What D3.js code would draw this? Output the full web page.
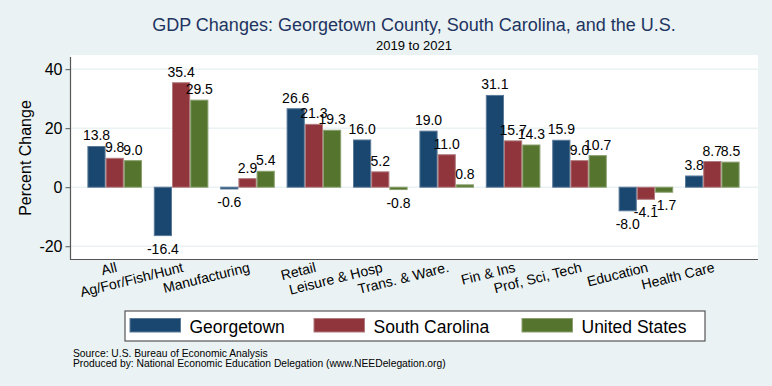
<!DOCTYPE html>
<html>
<head>
<meta charset="utf-8">
<script src="https://cdn.jsdelivr.net/npm/d3@7/dist/d3.min.js"></script>
<style>
  html, body { margin: 0; padding: 0; background: #eaf2f3; }
  svg { display: block; font-family: "Liberation Sans", Arial, Helvetica, sans-serif; }
</style>
</head>
<body>
<svg id="chart" width="772" height="386"></svg>
<script>
const categories = ["All", "Ag/For/Fish/Hunt", "Manufacturing", "Retail", "Leisure & Hosp",
  "Trans. & Ware.", "Fin & Ins", "Prof, Sci, Tech", "Education", "Health Care"];
const seriesNames = ["Georgetown", "South Carolina", "United States"];
const georgetown = [13.8, -16.4, -0.6, 26.6, 16.0, 19.0, 31.1, 15.9, -8.0, 3.8];
const southCarolina = [9.8, 35.4, 2.9, 21.3, 5.2, 11.0, 15.7, 9.0, -4.1, 8.7];
const unitedStates = [9.0, 29.5, 5.4, 19.3, -0.8, 0.8, 14.3, 10.7, -1.7, 8.5];
const yTicks = [-20, 0, 20, 40];
const colors = ["#1a476f", "#90353b", "#55752f"];
const strokes = ["#5a7a98", "#b07a7e", "#8aa06e"];

const series = [georgetown, southCarolina, unitedStates];
const svg = d3.select("#chart");
const W = 772, H = 386;
const plot = { left: 71, right: 758, top: 55, bottom: 259.5 };

svg.append("rect").attr("width", W).attr("height", H).attr("fill", "#eaf2f3");
svg.append("rect").attr("x", plot.left).attr("y", plot.top)
  .attr("width", plot.right - plot.left).attr("height", plot.bottom - plot.top)
  .attr("fill", "#ffffff");

const x = d3.scaleBand().domain(categories).range([70, 757]).paddingInner(0.178).paddingOuter(0.262);
const xs = d3.scaleBand().domain(seriesNames).range([0, x.bandwidth()]);
const y = d3.scaleLinear().domain([-24.5, 44.8]).range([plot.bottom, plot.top]);

// gridlines
svg.append("g").selectAll("line").data(yTicks).join("line")
  .attr("x1", plot.left).attr("x2", plot.right)
  .attr("y1", d => y(d)).attr("y2", d => y(d))
  .attr("stroke", "#eaf2f3").attr("stroke-width", 1.5);

// bars
const groups = svg.append("g").selectAll("g").data(categories).join("g")
  .attr("transform", d => `translate(${x(d)},0)`);
groups.each(function(cat, i) {
  const g = d3.select(this);
  seriesNames.forEach((s, j) => {
    const v = series[j][i];
    g.append("rect")
      .attr("x", xs(s) + 0.5).attr("width", xs.bandwidth() - 1)
      .attr("y", Math.min(y(v), y(0)))
      .attr("height", Math.abs(y(v) - y(0)))
      .attr("fill", colors[j]).attr("stroke", strokes[j]).attr("stroke-width", 1);
  });
});
// value labels
groups.each(function(cat, i) {
  const g = d3.select(this);
  seriesNames.forEach((s, j) => {
    const v = series[j][i];
    g.append("text")
      .attr("x", xs(s) + xs.bandwidth() / 2)
      .attr("y", v >= 0 ? y(v) - 6 : y(v) + 18)
      .attr("text-anchor", "middle").attr("font-size", 14).attr("fill", "#000")
      .text(v.toFixed(1));
  });
});

// y axis
const yAxis = d3.axisLeft(y).tickValues(yTicks).tickSize(5).tickPadding(3).tickFormat(d => String(d));
const ya = svg.append("g").attr("transform", `translate(${plot.left - 0.5},0)`).call(yAxis);
ya.select(".domain").attr("d", `M0,${plot.top + 2}V${plot.bottom}`).attr("stroke", "#555").attr("stroke-width", 1.2);
ya.selectAll(".tick line").attr("stroke", "#555");
ya.selectAll(".tick text").attr("font-size", 16).attr("fill", "#000").attr("font-family", "Liberation Sans, Arial, sans-serif");

// x axis
const xAxis = d3.axisBottom(x).tickSize(0).tickPadding(0);
const xa = svg.append("g").attr("transform", `translate(0,${plot.bottom})`).call(xAxis);
xa.select(".domain").attr("d", `M${plot.left - 1},0H${plot.right}`).attr("stroke", "#555").attr("stroke-width", 1.2);
xa.selectAll(".tick text")
  .attr("font-size", 14).attr("fill", "#000").attr("font-family", "Liberation Sans, Arial, sans-serif")
  .attr("text-anchor", "end").attr("dy", null).attr("y", null)
  .attr("transform", "translate(3,12) rotate(-14)");

// y title
svg.append("text").attr("transform", `translate(31,158) rotate(-90)`)
  .attr("text-anchor", "middle").attr("font-size", 16).attr("fill", "#000").text("Percent Change");

// title
svg.append("text").attr("x", 414).attr("y", 31).attr("text-anchor", "middle")
  .attr("font-size", 18).attr("fill", "#1e3461")
  .text("GDP Changes: Georgetown County, South Carolina, and the U.S.");
svg.append("text").attr("x", 414).attr("y", 50).attr("text-anchor", "middle")
  .attr("font-size", 13).attr("fill", "#000").text("2019 to 2021");

// legend
const leg = svg.append("g");
leg.append("rect").attr("x", 125).attr("y", 311).attr("width", 580).attr("height", 30)
  .attr("fill", "#fff").attr("stroke", "#555").attr("stroke-width", 1.2);
const legX = [130, 314, 522];
seriesNames.forEach((s, j) => {
  leg.append("rect").attr("x", legX[j]).attr("y", 318.5).attr("width", 50.5).attr("height", 13.5)
    .attr("fill", colors[j]).attr("stroke", strokes[j]).attr("stroke-width", 1);
  leg.append("text").attr("x", legX[j] + 59.5).attr("y", 332.5).attr("font-size", 17.5)
    .attr("fill", "#000").text(s);
});

// notes
svg.append("text").attr("x", 73).attr("y", 357).attr("font-size", 10.3).attr("fill", "#000")
  .text("Source: U.S. Bureau of Economic Analysis");
svg.append("text").attr("x", 73).attr("y", 366.5).attr("font-size", 10.3).attr("fill", "#000")
  .text("Produced by: National Economic Education Delegation (www.NEEDelegation.org)");
</script>
</body>
</html>
